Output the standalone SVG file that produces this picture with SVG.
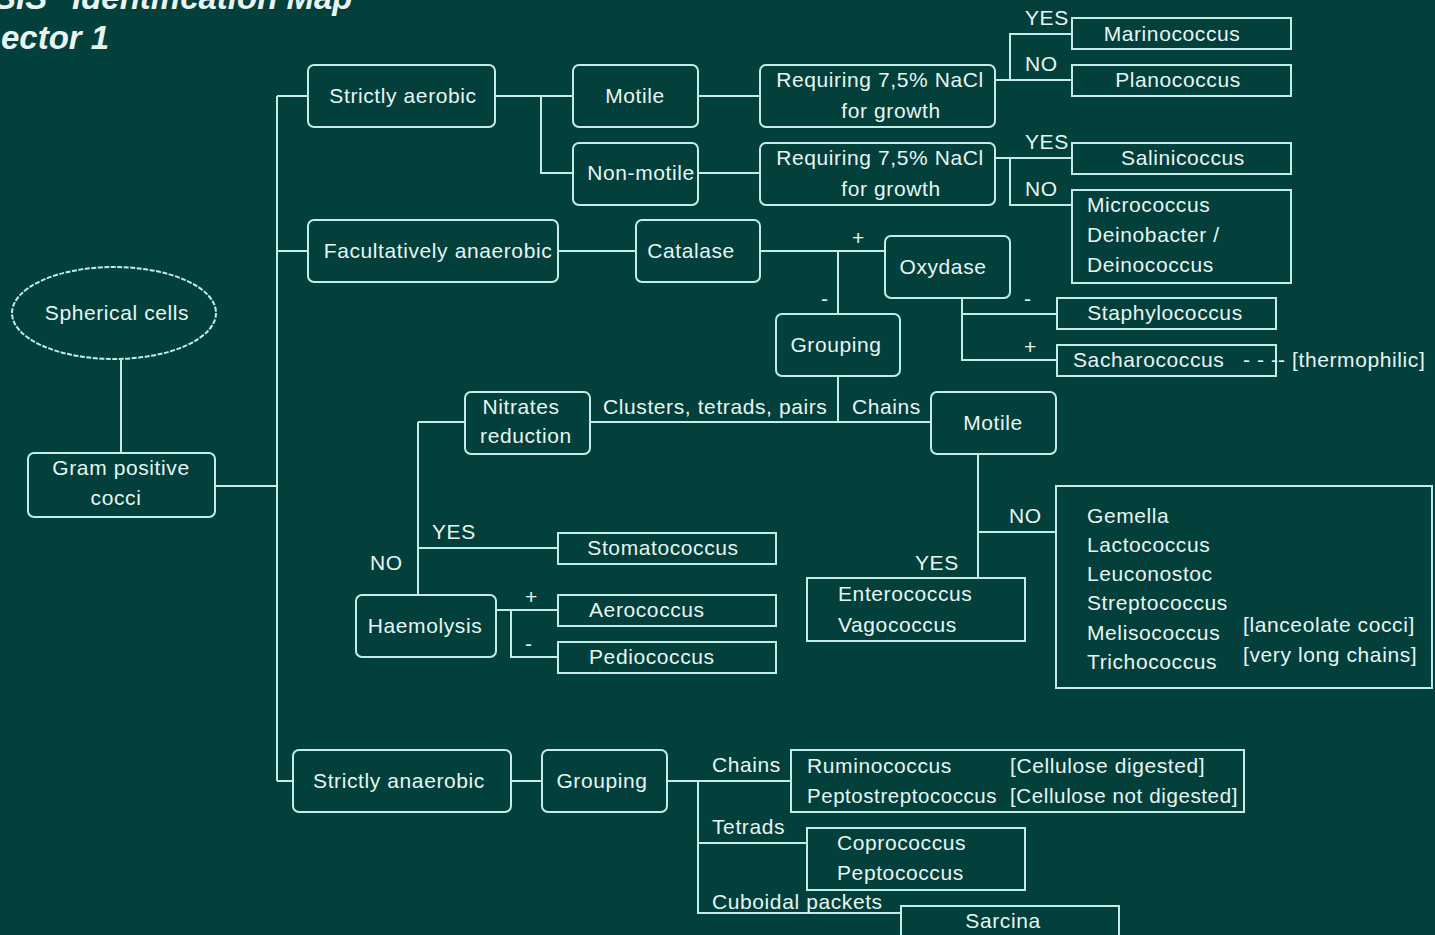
<svg xmlns="http://www.w3.org/2000/svg" width="1435" height="935" viewBox="0 0 1435 935">
<style>
.bg{fill:#033f3b}
.b{fill:none;stroke:#c4ece6;stroke-width:2}
.c{fill:none;stroke:#c4ece6;stroke-width:2}
text{font-family:"Liberation Sans",Arial,sans-serif;font-size:21px;fill:#e6f6f2;letter-spacing:0.6px}
.m{text-anchor:middle}
.ttl{font-weight:bold;font-style:italic;font-size:33px;fill:#e8f4f0;letter-spacing:0}
</style>
<rect class="bg" x="0" y="0" width="1435" height="935"/>
<g id="title">
<text class="ttl" x="-6" y="9">SIS "Identification Map</text>
<text class="ttl" x="1" y="49">ector 1</text>
</g>
<g id="connectors">
<path class="c" d="M121 360V453M215 486H277M277 96V781M277 96H308M277 251H308M277 781H293"/>
<path class="c" d="M495 96H573M541 96V173H573M698 96H760M698 173H760"/>
<path class="c" d="M995 80H1072M1010 80V34H1072M995 158H1072M1010 158V205H1072"/>
<path class="c" d="M558 251H636M760 251H885M838 251V314M962 298V360H1057M962 314H1057"/>
<path class="c" d="M838 376V422M590 422H931M418 422H465M418 422V595M418 548H558"/>
<path class="c" d="M496 610H558M511 610V657H558"/>
<path class="c" d="M978 454V578M978 532H1056"/>
<path class="c" d="M511 781H542M667 781H791M698 781V913H901M698 843H807"/>
</g>
<g id="labels">
<text x="1025" y="25">YES</text>
<text x="1025" y="71">NO</text>
<text x="1025" y="149">YES</text>
<text x="1025" y="196">NO</text>
<text x="852" y="245">+</text>
<text x="821" y="306">-</text>
<text x="1024" y="306">-</text>
<text x="1024" y="354">+</text>
<text x="603" y="414">Clusters, tetrads, pairs</text>
<text x="852" y="414">Chains</text>
<text x="432" y="539">YES</text>
<text x="370" y="570">NO</text>
<text x="525" y="604">+</text>
<text x="525" y="651">-</text>
<text x="1009" y="523">NO</text>
<text x="915" y="570">YES</text>
<text x="712" y="772">Chains</text>
<text x="712" y="834">Tetrads</text>
<text x="712" y="909">Cuboidal packets</text>
</g>
<g id="spherical">
<ellipse class="b" cx="114" cy="313" rx="102" ry="46" stroke-dasharray="5 1.5"/>
<text class="m" x="117" y="320">Spherical cells</text>
</g>
<g id="gram">
<rect class="b" x="28" y="453" width="187" height="64" rx="6"/>
<text class="m" x="121" y="475">Gram positive</text>
<text class="m" x="116" y="505">cocci</text>
</g>
<g id="aerobic">
<rect class="b" x="308" y="65" width="187" height="62" rx="6"/>
<text class="m" x="403" y="103">Strictly aerobic</text>
</g>
<g id="motile1">
<rect class="b" x="573" y="65" width="125" height="62" rx="6"/>
<text class="m" x="635" y="103">Motile</text>
</g>
<g id="nonmotile">
<rect class="b" x="573" y="143" width="125" height="62" rx="6"/>
<text class="m" x="641" y="180">Non-motile</text>
</g>
<g id="nacl1">
<rect class="b" x="760" y="65" width="235" height="62" rx="6"/>
<text class="m" x="880" y="87">Requiring 7,5% NaCl</text>
<text class="m" x="891" y="118">for growth</text>
</g>
<g id="nacl2">
<rect class="b" x="760" y="143" width="235" height="62" rx="6"/>
<text class="m" x="880" y="165">Requiring 7,5% NaCl</text>
<text class="m" x="891" y="196">for growth</text>
</g>
<g id="marinococcus">
<rect class="b" x="1072" y="18" width="219" height="31"/>
<text class="m" x="1172" y="41">Marinococcus</text>
</g>
<g id="planococcus">
<rect class="b" x="1072" y="65" width="219" height="31"/>
<text class="m" x="1178" y="87">Planococcus</text>
</g>
<g id="salinicoccus">
<rect class="b" x="1072" y="143" width="219" height="31"/>
<text class="m" x="1183" y="165">Salinicoccus</text>
</g>
<g id="micrococcus">
<rect class="b" x="1072" y="190" width="219" height="93"/>
<text x="1087" y="212">Micrococcus</text>
<text x="1087" y="242">Deinobacter /</text>
<text x="1087" y="272">Deinococcus</text>
</g>
<g id="facultative">
<rect class="b" x="308" y="220" width="250" height="62" rx="6"/>
<text class="m" x="438" y="258">Facultatively anaerobic</text>
</g>
<g id="catalase">
<rect class="b" x="636" y="220" width="124" height="62" rx="6"/>
<text class="m" x="691" y="258">Catalase</text>
</g>
<g id="oxydase">
<rect class="b" x="885" y="236" width="125" height="62" rx="6"/>
<text class="m" x="943" y="274">Oxydase</text>
</g>
<g id="staphylococcus">
<rect class="b" x="1057" y="298" width="219" height="31"/>
<text class="m" x="1165" y="320">Staphylococcus</text>
</g>
<g id="sacharococcus">
<rect class="b" x="1057" y="345" width="219" height="31"/>
<text x="1073" y="367">Sacharococcus</text>
<text x="1243" y="367">- - -</text>
<text x="1278" y="367">- [thermophilic]</text>
</g>
<g id="grouping1">
<rect class="b" x="776" y="314" width="124" height="62" rx="6"/>
<text class="m" x="836" y="352">Grouping</text>
</g>
<g id="nitrates">
<rect class="b" x="465" y="392" width="125" height="62" rx="6"/>
<text class="m" x="521" y="414">Nitrates</text>
<text class="m" x="526" y="443">reduction</text>
</g>
<g id="motile2">
<rect class="b" x="931" y="392" width="125" height="62" rx="6"/>
<text class="m" x="993" y="430">Motile</text>
</g>
<g id="stomatococcus">
<rect class="b" x="558" y="533" width="218" height="31"/>
<text class="m" x="663" y="555">Stomatococcus</text>
</g>
<g id="haemolysis">
<rect class="b" x="356" y="595" width="140" height="62" rx="6"/>
<text class="m" x="425" y="633">Haemolysis</text>
</g>
<g id="aerococcus">
<rect class="b" x="558" y="595" width="218" height="31"/>
<text x="589" y="617">Aerococcus</text>
</g>
<g id="pediococcus">
<rect class="b" x="558" y="642" width="218" height="31"/>
<text x="589" y="664">Pediococcus</text>
</g>
<g id="enterococcus">
<rect class="b" x="807" y="578" width="218" height="63"/>
<text x="838" y="601">Enterococcus</text>
<text x="838" y="632">Vagococcus</text>
</g>
<g id="gemella">
<rect class="b" x="1056" y="486" width="376" height="202"/>
<text x="1087" y="523">Gemella</text>
<text x="1087" y="552">Lactococcus</text>
<text x="1087" y="581">Leuconostoc</text>
<text x="1087" y="610">Streptococcus</text>
<text x="1087" y="640">Melisococcus</text>
<text x="1087" y="669">Trichococcus</text>
<text x="1243" y="632">[lanceolate cocci]</text>
<text x="1243" y="662">[very long chains]</text>
</g>
<g id="anaerobic">
<rect class="b" x="293" y="750" width="218" height="62" rx="6"/>
<text class="m" x="399" y="788">Strictly anaerobic</text>
</g>
<g id="grouping2">
<rect class="b" x="542" y="750" width="125" height="62" rx="6"/>
<text class="m" x="602" y="788">Grouping</text>
</g>
<g id="ruminococcus">
<rect class="b" x="791" y="750" width="453" height="62"/>
<text x="807" y="773">Ruminococcus</text>
<text x="807" y="803" textLength="190" lengthAdjust="spacingAndGlyphs">Peptostreptococcus</text>
<text x="1010" y="773">[Cellulose digested]</text>
<text x="1010" y="803" textLength="228" lengthAdjust="spacingAndGlyphs">[Cellulose not digested]</text>
</g>
<g id="coprococcus">
<rect class="b" x="807" y="828" width="218" height="62"/>
<text x="837" y="850">Coprococcus</text>
<text x="837" y="880">Peptococcus</text>
</g>
<g id="sarcina">
<rect class="b" x="901" y="906" width="218" height="40"/>
<text class="m" x="1003" y="928">Sarcina</text>
</g>
</svg>
